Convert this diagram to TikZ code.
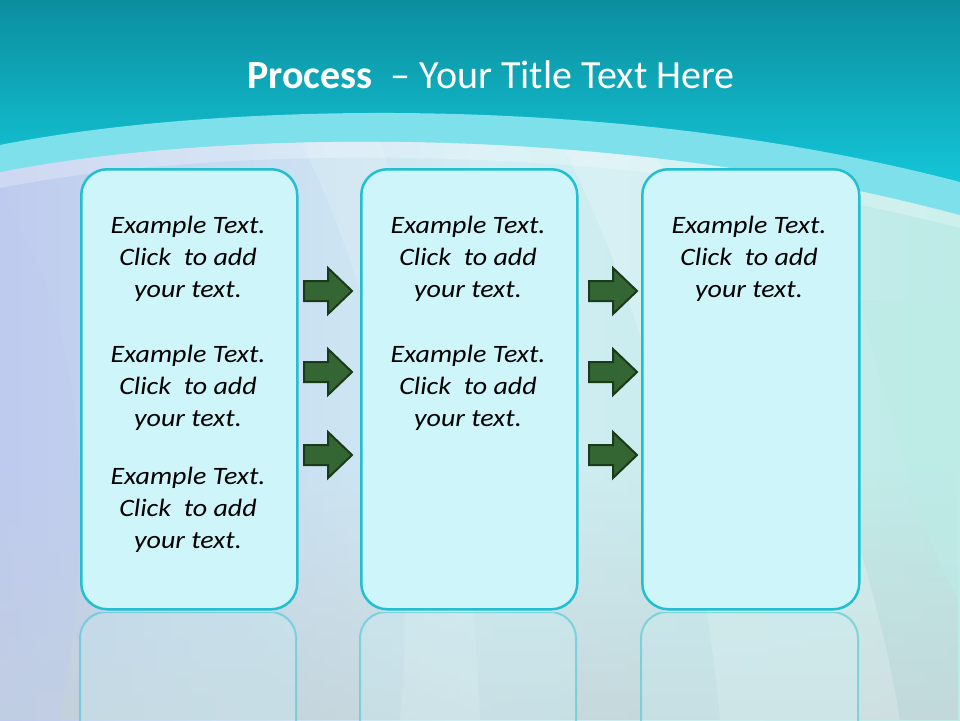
\documentclass[tikz,border=0pt]{standalone}
\usepackage{fontspec}
\setmainfont{Carlito}
\usetikzlibrary{fadings}
\definecolor{topdark}{HTML}{0B8E9E}
\definecolor{topcyan}{HTML}{14C8DA}
\definecolor{boxfill}{HTML}{CDF5FA}
\definecolor{boxline}{HTML}{22BFD0}
\definecolor{arrowfill}{HTML}{336633}
\definecolor{arrowline}{HTML}{1A3A1A}
\definecolor{lav}{HTML}{BFCBEE}
\definecolor{midpale}{HTML}{D2EEF4}
\definecolor{rightpale}{HTML}{BDEBE6}
\definecolor{bottomgray}{HTML}{C4D2D6}
\tikzset{
  stepbox/.style={draw=boxline, line width=2.5pt, fill=boxfill, rounded corners=26pt},
  reflbox/.style={draw=boxline, draw opacity=0.45, line width=2pt, fill=boxfill, fill opacity=0.25, rounded corners=26pt},
  bodytext/.style={font=\fontsize{25}{32}\selectfont\itshape, inner sep=0pt, text=black},
  flowarrow/.style={draw=arrowline, line width=2pt, fill=arrowfill, line join=miter},
}
\newcommand{\extext}{\scalebox{1.12}[1]{\begin{tabular}{@{}c@{}}Example Text.\\Click\ \ to add\\your text.\end{tabular}}}
\begin{document}
\begin{tikzpicture}[x=1pt,y=-1pt]
\useasboundingbox (0,0) rectangle (960,720);
% background lower
\shade[left color=lav, right color=rightpale, middle color=midpale] (0,0) rectangle (960,720);
\fill[bottomgray, path fading=north, opacity=0.75] (0,470) rectangle (960,720);
% soft swirls
\fill[white, opacity=0.2] (560,140) .. controls (640,300) and (700,500) .. (720,720) -- (900,720) .. controls (860,480) and (760,280) .. (640,140) -- cycle;
\fill[white, opacity=0.15] (300,140) .. controls (380,300) and (420,500) .. (400,720) -- (480,720) .. controls (470,480) and (430,300) .. (380,140) -- cycle;
\fill[lav, opacity=0.4] (0,200) .. controls (80,300) and (100,500) .. (60,720) -- (0,720) -- cycle;
\fill[rightpale, opacity=0.6] (860,300) .. controls (900,450) and (930,560) .. (960,600) -- (960,300) -- cycle;
% top band
\shade[top color=topdark, bottom color=topcyan] (0,0) -- (960,0) -- (960,190) .. controls (600,95) and (200,110) .. (0,150) -- cycle;
\fill[topcyan] (0,145) .. controls (200,105) and (600,88) .. (960,182) -- (960,215) .. controls (600,118) and (200,132) .. (0,172) -- cycle;
\fill[white, opacity=0.45] (0,145) .. controls (200,105) and (600,88) .. (960,182) -- (960,215) .. controls (600,118) and (200,132) .. (0,172) -- cycle;
\fill[white, opacity=0.25] (0,172) .. controls (200,132) and (600,118) .. (960,215) -- (960,228) .. controls (600,135) and (200,148) .. (0,188) -- cycle;
% title
\node[text=white, font=\fontsize{40}{44}\selectfont, anchor=base] (title) at (491,88) {\textbf{Process}\ \ – Your Title Text Here};
% reflections
\begin{scope}
\clip (0,612) rectangle (960,720);
\draw[reflbox] (80,612) rectangle (296,1052);
\draw[reflbox] (360,612) rectangle (576,1052);
\draw[reflbox] (641,612) rectangle (858,1052);
\end{scope}
% boxes
\node[stepbox, minimum width=216pt, minimum height=440pt, anchor=north west] (b1) at (80,168) {};
\node[stepbox, minimum width=216pt, minimum height=440pt, anchor=north west] (b2) at (360,168) {};
\node[stepbox, minimum width=217pt, minimum height=440pt, anchor=north west] (b3) at (641,168) {};
% texts
\node[bodytext] (t11) at (188,259) {\extext};
\node[bodytext] (t12) at (188,388) {\extext};
\node[bodytext] (t13) at (188,510) {\extext};
\node[bodytext] (t21) at (468,259) {\extext};
\node[bodytext] (t22) at (468,388) {\extext};
\node[bodytext] (t31) at (749,259) {\extext};
% arrows
\foreach \x/\y in {327/291, 327/372, 327/455, 612/291, 612/372, 612/455}{
  \draw[flowarrow] (\x-23,\y-10) -- (\x+1,\y-10) -- (\x+1,\y-23) -- (\x+25,\y) -- (\x+1,\y+23) -- (\x+1,\y+10) -- (\x-23,\y+10) -- cycle;
}
\end{tikzpicture}
\end{document}
